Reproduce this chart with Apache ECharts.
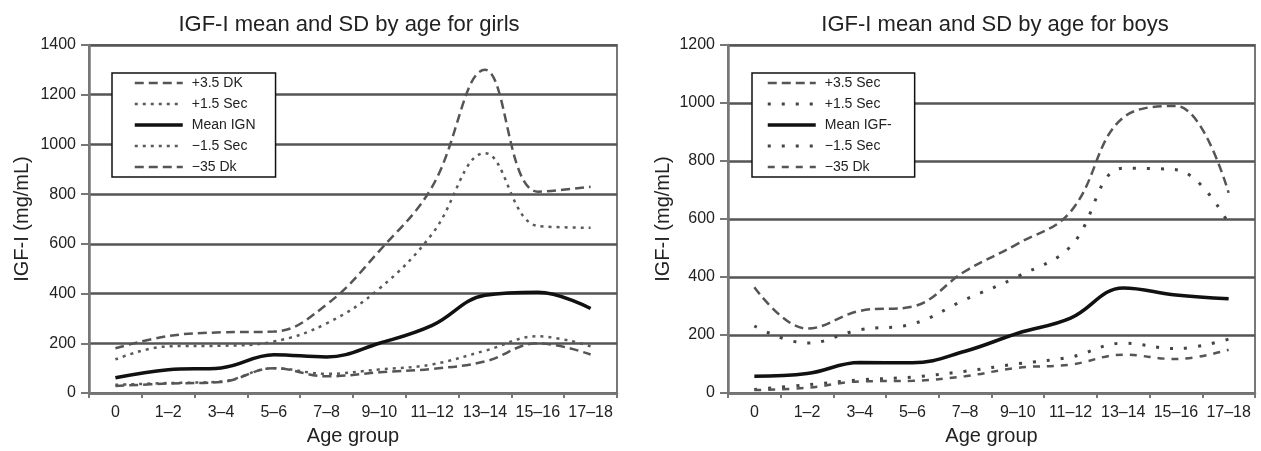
<!DOCTYPE html>
<html>
<head>
<meta charset="utf-8">
<script src="https://cdn.jsdelivr.net/npm/echarts@6/dist/echarts.min.js"></script>
<style>
html,body{margin:0;padding:0;background:#fff;}
#c{width:1261px;height:451px;}
</style>
</head>
<body>
<div id="c"></div>
<script>
// ---- Data ----
var categories = ['0', '1–2', '3–4', '5–6', '7–8', '9–10', '11–12', '13–14', '15–16', '17–18'];
var girlsTicks = [0, 200, 400, 600, 800, 1000, 1200, 1400];
var boysTicks = [0, 200, 400, 600, 800, 1000, 1200];

var girlsNames = ['+3.5 DK', '+1.5 Sec', 'Mean IGN', '−1.5 Sec', '−35 Dk'];
var girlsPlus35 = [180, 229, 244, 247, 356, 572, 830, 1300, 810, 830];
var girlsPlus15 = [135, 188, 190, 207, 280, 420, 640, 965, 672, 665];
var girlsMean = [61, 94, 101, 154, 145, 200, 272, 393, 405, 340];
var girlsMinus15 = [33, 40, 46, 100, 77, 95, 115, 170, 228, 188];
var girlsMinus35 = [28, 38, 44, 100, 67, 83, 97, 127, 200, 155];

var boysNames = ['+3.5 Sec', '+1.5 Sec\u200B', 'Mean IGF-', '−1.5 Sec\u200B', '−35 Dk\u200B'];
var boysPlus35 = [365, 222, 283, 298, 420, 515, 625, 950, 990, 690];
var boysPlus15 = [231, 172, 218, 238, 322, 402, 505, 775, 770, 584];
var boysMean = [58, 67, 105, 104, 144, 206, 258, 362, 338, 325];
var boysMinus15 = [12, 28, 45, 55, 75, 101, 124, 172, 153, 186];
var boysMinus35 = [10, 18, 40, 42, 58, 87, 98, 132, 117, 149];

// ---- Styles ----
var FONT = '"Liberation Sans", Arial, Helvetica, sans-serif';
var dashLong = {color: '#555', width: 2.5, type: [9, 5]};
var dotGirls = {color: '#5a5a5a', width: 2.5, type: [3, 5]};
var dotBoys = {color: '#444', width: 3, type: [3, 11]};
var dashBoysLow = {color: '#555', width: 2.5, type: [7, 7]};
var meanStyle = {color: '#111', width: 3.5};

function mk(name, data, idx, style) {
  return {
    type: 'line', name: name, data: data,
    xAxisIndex: idx, yAxisIndex: idx,
    smooth: 0.4, symbol: 'none', showSymbol: false,
    lineStyle: style, itemStyle: {color: style.color},
    emphasis: {disabled: true}, animation: false
  };
}

function xAx(idx) {
  return {
    type: 'category', gridIndex: idx, data: categories, boundaryGap: true,
    name: 'Age group', nameLocation: 'middle', nameGap: 33,
    nameTextStyle: {fontFamily: FONT, fontSize: 20, color: '#222'},
    axisLine: {lineStyle: {color: '#777', width: 2.5}},
    axisTick: {show: true, length: 5, lineStyle: {color: '#777', width: 2}},
    axisLabel: {fontFamily: FONT, fontSize: 16, color: '#222', margin: 12, interval: 0},
    splitLine: {show: false}
  };
}
function yAx(idx, ticks, gap) {
  return {
    type: 'value', gridIndex: idx, min: ticks[0], max: ticks[ticks.length - 1],
    interval: ticks[1] - ticks[0],
    name: 'IGF-I (mg/mL)', nameLocation: 'middle', nameGap: gap,
    nameTextStyle: {fontFamily: FONT, fontSize: 20, color: '#222'},
    axisLine: {show: true, lineStyle: {color: '#777', width: 2.5}},
    axisTick: {show: true, length: 8, lineStyle: {color: '#777', width: 2}},
    axisLabel: {fontFamily: FONT, fontSize: 16, color: '#222', margin: 13,
      formatter: function (v) { return String(v); }},
    splitLine: {show: true, lineStyle: {color: '#555', width: 2.5}}
  };
}
function lg(names, left, padL, padR) {
  return {
    data: names, orient: 'vertical', left: left, top: 73,
    itemWidth: 48, itemHeight: 14, itemGap: 7,
    padding: [3, padR, 3, padL],
    borderColor: '#111', borderWidth: 1.5, backgroundColor: '#fff',
    selectedMode: false,
    itemStyle: {color: 'rgba(0,0,0,0)', borderColor: 'rgba(0,0,0,0)', borderWidth: 0, opacity: 0},
    lineStyle: {width: 'inherit'},
    textStyle: {fontFamily: FONT, fontSize: 14, color: '#222', padding: [0, 0, 0, 4]}
  };
}

var chart = echarts.init(document.getElementById('c'), null, {renderer: 'canvas'});
chart.setOption({
  backgroundColor: '#fff',
  animation: false,
  title: [
    {text: 'IGF-I mean and SD by age for girls', left: 344, textAlign: 'center', top: 9,
     textStyle: {fontFamily: FONT, fontSize: 22, fontWeight: 'normal', color: '#222'}},
    {text: 'IGF-I mean and SD by age for boys', left: 990, textAlign: 'center', top: 9,
     textStyle: {fontFamily: FONT, fontSize: 22, fontWeight: 'normal', color: '#222'}}
  ],
  grid: [
    {left: 89, top: 45, width: 528, height: 352, show: true, borderColor: '#777', borderWidth: 2, backgroundColor: 'transparent'},
    {left: 728, top: 45, width: 527, height: 352, show: true, borderColor: '#777', borderWidth: 2, backgroundColor: 'transparent'}
  ],
  xAxis: [xAx(0), xAx(1)],
  yAxis: [yAx(0, girlsTicks, 57), yAx(1, boysTicks, 55)],
  legend: [lg(girlsNames, 112, 21, 20), lg(boysNames, 752, 14, 23)],
  series: [
    mk(girlsNames[0], girlsPlus35, 0, dashLong),
    mk(girlsNames[1], girlsPlus15, 0, dotGirls),
    mk(girlsNames[2], girlsMean, 0, meanStyle),
    mk(girlsNames[3], girlsMinus15, 0, dotGirls),
    mk(girlsNames[4], girlsMinus35, 0, dashLong),
    mk(boysNames[0], boysPlus35, 1, dashLong),
    mk(boysNames[1], boysPlus15, 1, dotBoys),
    mk(boysNames[2], boysMean, 1, meanStyle),
    mk(boysNames[3], boysMinus15, 1, dotBoys),
    mk(boysNames[4], boysMinus35, 1, dashBoysLow)
  ]
});
</script>
</body>
</html>
